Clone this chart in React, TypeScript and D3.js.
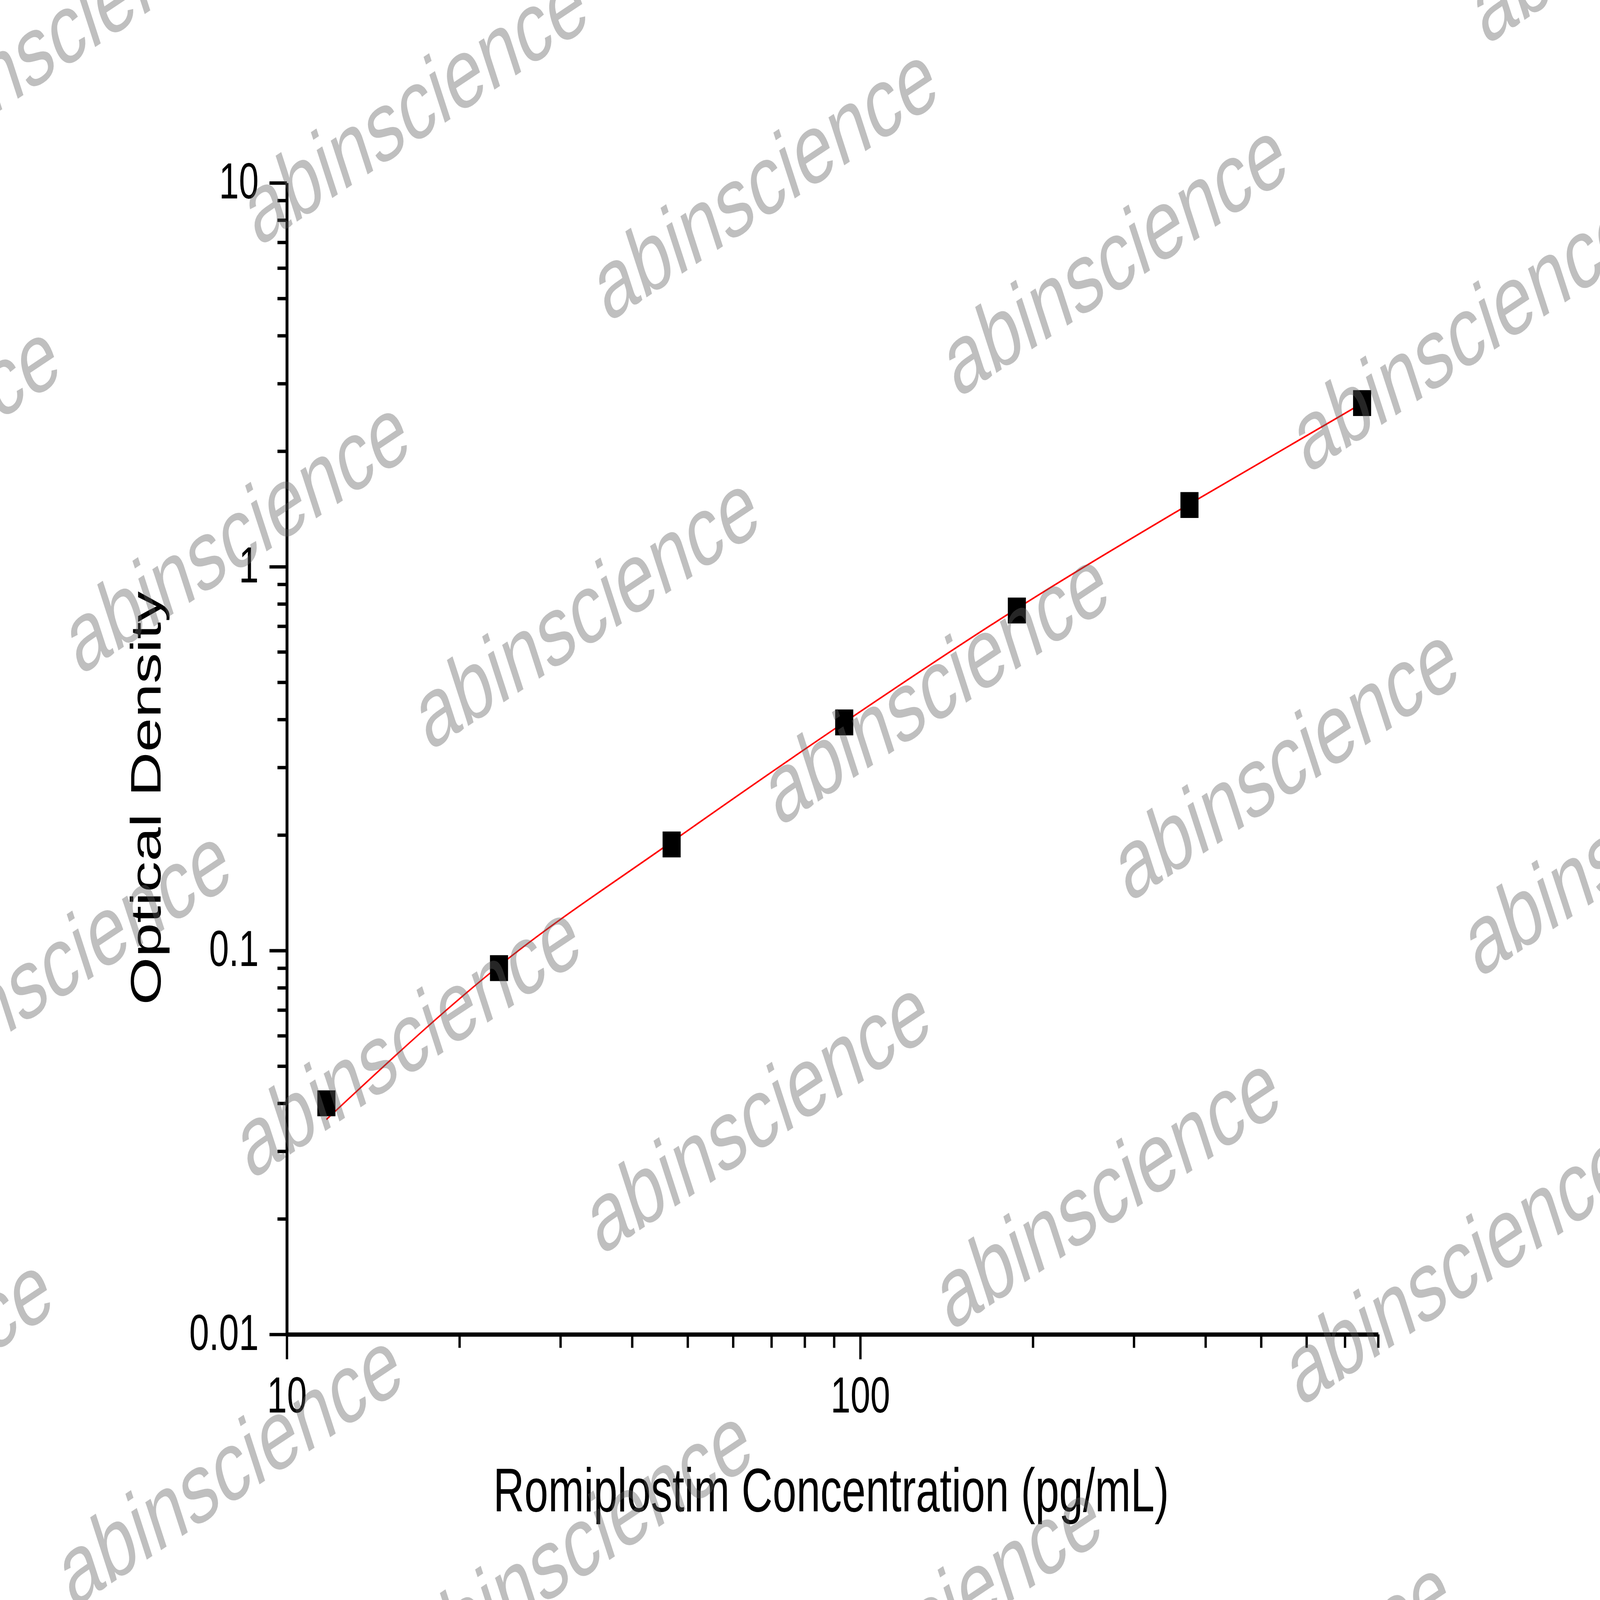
import { useRef, useEffect } from "react";
import * as d3 from "d3";

// Standard curve: Romiplostim ELISA
const concentrations = [11.72, 23.44, 46.88, 93.75, 187.5, 375, 750];
const odValues = [0.04, 0.09, 0.189, 0.393, 0.769, 1.448, 2.669];
// fitted curve at each standard
const fitOd = [0.0363, 0.0912, 0.1919, 0.393, 0.778, 1.457, 2.665];

const xMajorTicks = [10, 100];
const xMinorTicks = [20, 30, 40, 50, 60, 70, 80, 90, 200, 300, 400, 500, 600, 700, 800];
const yMajorTicks = [0.01, 0.1, 1, 10];
const yTickLabels = ["0.01", "0.1", "1", "10"];
const yMinorTicks = [
  0.02, 0.03, 0.04, 0.05, 0.06, 0.07, 0.08, 0.09,
  0.2, 0.3, 0.4, 0.5, 0.6, 0.7, 0.8, 0.9,
  2, 3, 4, 5, 6, 7, 8, 9,
];

const xTitle = "Romiplostim Concentration (pg/mL)";
const yTitle = "Optical Density";
const watermark = "abinscience";

const W = 6816;
const H = 4759;
const FONT = "'Liberation Sans', Arial, sans-serif";

export default function App() {
  const svgRef = useRef<SVGSVGElement>(null);

  useEffect(() => {
    if (!svgRef.current) return;
    const svg = d3.select(svgRef.current);
    svg.selectAll("*").remove();

    svg.append("rect").attr("width", W).attr("height", H).attr("fill", "#fff");

    const x = d3.scaleLog().domain([10, 800]).range([1222, 5871]);
    const y = d3.scaleLog().domain([0.01, 10]).range([3969, 544]);

    const styleAxis = (axis: d3.Selection<SVGGElement, unknown, null, undefined>) => {
      axis.select(".domain").attr("stroke", "#000").attr("stroke-width", 12);
      axis.selectAll(".tick line").attr("stroke", "#000").attr("stroke-width", 10);
      axis
        .selectAll(".tick text")
        .attr("fill", "#000")
        .attr("font-family", FONT)
        .attr("font-size", 152);
    };

    // minor ticks
    svg
      .append("g")
      .attr("transform", `translate(0,${y(0.01)})`)
      .call(d3.axisBottom(x).tickValues(xMinorTicks).tickSize(40).tickSizeOuter(0).tickFormat(() => ""))
      .call(styleAxis);
    svg
      .append("g")
      .attr("transform", `translate(${x(10)},0)`)
      .call(d3.axisLeft(y).tickValues(yMinorTicks).tickSize(40).tickSizeOuter(0).tickFormat(() => ""))
      .call(styleAxis);

    // major ticks + labels
    svg
      .append("g")
      .attr("transform", `translate(0,${y(0.01)})`)
      .call(
        d3
          .axisBottom(x)
          .tickValues(xMajorTicks)
          .tickSize(74)
          .tickSizeOuter(0)
          .tickPadding(50)
          .tickFormat((d) => String(d))
      )
      .call(styleAxis);
    svg
      .append("g")
      .attr("transform", `translate(${x(10)},0)`)
      .call(
        d3
          .axisLeft(y)
          .tickValues(yMajorTicks)
          .tickSize(74)
          .tickSizeOuter(0)
          .tickPadding(46)
          .tickFormat((_, i) => yTickLabels[i])
      )
      .call(styleAxis)
      .call((g) => g.selectAll(".tick text").attr("dy", "0.3em"));

    // fitted curve
    const pts = concentrations.map((c, i) => [c, fitOd[i]] as [number, number]);
    const line = d3
      .line<[number, number]>()
      .x((d) => x(d[0]))
      .y((d) => y(d[1]))
      .curve(d3.curveMonotoneX);
    svg
      .append("path")
      .datum(pts)
      .attr("fill", "none")
      .attr("stroke", "#ff0000")
      .attr("stroke-width", 5)
      .attr("d", line);

    // data points
    const size = 77;
    svg
      .append("g")
      .selectAll("rect")
      .data(concentrations)
      .join("rect")
      .attr("x", (d) => x(d) - size / 2)
      .attr("y", (_, i) => y(odValues[i]) - size / 2)
      .attr("width", size)
      .attr("height", size)
      .attr("fill", "#000");

    // axis titles
    svg
      .append("text")
      .attr("x", (x(10) + x(800)) / 2 - 6)
      .attr("y", 4495)
      .attr("text-anchor", "middle")
      .attr("font-family", FONT)
      .attr("font-size", 183)
      .attr("fill", "#000")
      .text(xTitle);
    svg
      .append("text")
      .attr("transform", `translate(684,2374) rotate(-90)`)
      .attr("text-anchor", "middle")
      .attr("font-family", FONT)
      .attr("font-size", 183)
      .attr("fill", "#000")
      .text(yTitle);

    // watermark grid
    const wm = svg.append("g").attr("fill", "rgb(96,96,96)").attr("fill-opacity", 0.4);
    for (let r = -2; r <= 5; r++) {
      for (let k = -3; k <= 6; k++) {
        const cx = 3300 + r * -760 + k * 1490;
        const cy = 630 + r * 1275 + k * 225;
        if (cx < -1200 || cx > W + 1200 || cy < -700 || cy > H + 700) continue;
        wm.append("text")
          .attr("transform", `translate(${cx},${cy}) rotate(-25)`)
          .attr("text-anchor", "middle")
          .attr("font-family", FONT)
          .attr("font-size", 298)
          .text(watermark);
      }
    }
  }, []);

  // the window the page gets can be smaller than the chart, so scale it to fill
  return (
    <div style={{ position: "fixed", inset: 0 }}>
      <svg
        ref={svgRef}
        viewBox={`0 0 ${W} ${H}`}
        preserveAspectRatio="none"
        style={{ width: "100%", height: "100%", display: "block" }}
      />
    </div>
  );
}
